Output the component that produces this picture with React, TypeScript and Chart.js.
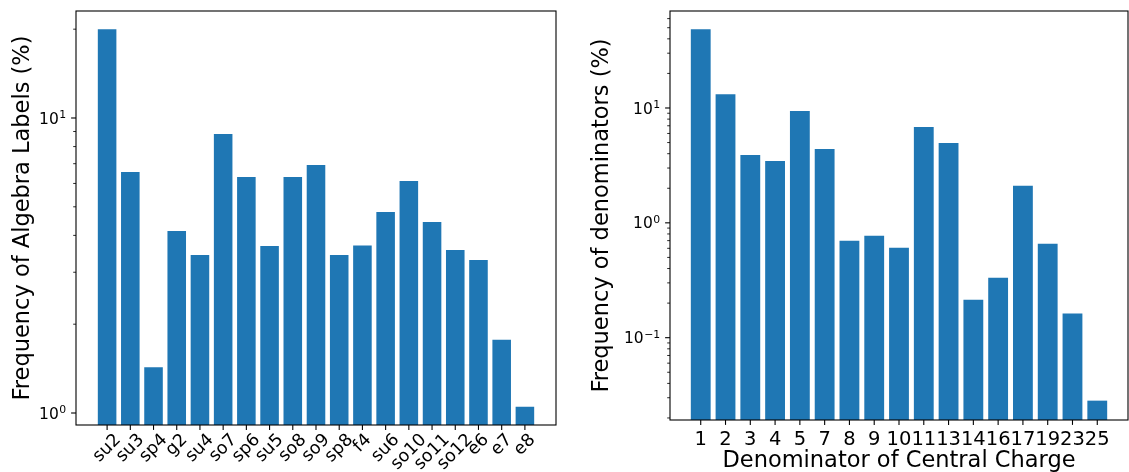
import React, { useEffect, useRef } from "react";
import { Chart, registerables } from "chart.js";

Chart.register(...registerables);

// ---------- data ----------
const algebraLabels = ["su2", "su3", "sp4", "g2", "su4", "so7", "sp6", "su5", "so8", "so9", "sp8", "f4", "su6", "so10", "so11", "so12", "e6", "e7", "e8"];
const algebraFreq = [20.0, 6.56, 1.43, 4.14, 3.43, 8.83, 6.31, 3.68, 6.31, 6.93, 3.43, 3.7, 4.8, 6.11, 4.44, 3.57, 3.3, 1.77, 1.05];

const denomLabels = ["1", "2", "3", "4", "5", "7", "8", "9", "10", "11", "13", "14", "16", "17", "19", "23", "25"];
const denomFreq = [48.6, 13.2, 3.9, 3.46, 9.42, 4.4, 0.698, 0.771, 0.607, 6.84, 4.96, 0.214, 0.333, 2.1, 0.657, 0.162, 0.0283];

const leftYTicks = [1, 2, 3, 4, 5, 6, 7, 8, 9, 10, 20];
const rightYTicks = [
  0.02, 0.03, 0.04, 0.05, 0.06, 0.07, 0.08, 0.09,
  0.1, 0.2, 0.3, 0.4, 0.5, 0.6, 0.7, 0.8, 0.9,
  1, 2, 3, 4, 5, 6, 7, 8, 9,
  10, 20, 30, 40, 50, 60,
];
const powerExponents: Record<string, string> = { "-1": "\u22121", "0": "0", "1": "1" };

const FONT = "'DejaVu Sans', sans-serif";
const BAR_COLOR = "#1f77b4";
const TITLE_SIZE = 22.5;
const YTICK_SIZE = 15.5;

function isPow10(v: number) {
  const l = Math.log10(v);
  return Math.abs(l - Math.round(l)) < 1e-9;
}

type PanelProps = {
  width: number;
  height: number;
  area: { left: number; right: number; top: number; bottom: number };
  labels: string[];
  values: number[];
  yTicks: number[];
  yMin: number;
  yMax: number;
  yTitle: string;
  yTitlePad: number;
  xTitle?: string;
  xTitlePad?: number;
  rotated: boolean;
  xTickSize: number;
};

function Panel(p: PanelProps) {
  const ref = useRef<HTMLCanvasElement | null>(null);
  useEffect(() => {
    if (!ref.current) return;
    const n = p.labels.length;
    const margin = (n - 1 + 0.8) * 0.05;
    const xMin = -0.4 - margin;
    const xMax = n - 1 + 0.4 + margin;

    const axesPlugin = {
      id: "mplAxes",
      afterDraw(chart: any) {
        const ctx = chart.ctx as CanvasRenderingContext2D;
        const { left, right, top, bottom } = chart.chartArea;
        const xs = chart.scales.x;
        const ys = chart.scales.y;
        ctx.save();
        ctx.strokeStyle = "#000";
        ctx.lineCap = "butt";
        // x tick marks
        ctx.lineWidth = 1.1;
        for (const t of xs.ticks) {
          const px = xs.getPixelForValue(t.value);
          ctx.beginPath();
          ctx.moveTo(px, bottom);
          ctx.lineTo(px, bottom + 4.9);
          ctx.stroke();
        }
        // y tick marks + power-of-ten labels
        for (const t of ys.ticks) {
          const py = ys.getPixelForValue(t.value);
          const major = isPow10(t.value);
          ctx.lineWidth = major ? 1.1 : 0.84;
          const len = major ? 4.9 : 2.8;
          ctx.beginPath();
          ctx.moveTo(left - len, py);
          ctx.lineTo(left, py);
          ctx.stroke();
          if (major) {
            const exp = powerExponents[String(Math.round(Math.log10(t.value)))];
            if (exp !== undefined) {
              ctx.fillStyle = "#000";
              ctx.textBaseline = "alphabetic";
              ctx.font = `${YTICK_SIZE * 0.7}px ${FONT}`;
              const we = ctx.measureText(exp).width;
              const xEnd = left - 9.8;
              ctx.textAlign = "left";
              ctx.fillText(exp, xEnd - we, py);
              ctx.font = `${YTICK_SIZE}px ${FONT}`;
              ctx.textAlign = "right";
              ctx.fillText("10", xEnd - we - 0.5, py + 5.6);
            }
          }
        }
        // spines
        ctx.lineWidth = 1.1;
        ctx.strokeRect(left, top, right - left, bottom - top);
        // rotated x tick labels (centered like matplotlib)
        if (p.rotated) {
          ctx.fillStyle = "#000";
          ctx.font = `${p.xTickSize}px ${FONT}`;
          ctx.textAlign = "center";
          ctx.textBaseline = "middle";
          const s = Math.SQRT1_2;
          const h = p.xTickSize * 1.17;
          for (const t of xs.ticks) {
            const label = p.labels[t.value];
            if (label === undefined) continue;
            const w = ctx.measureText(label).width;
            const bboxH = (w + h) * s;
            const cx = xs.getPixelForValue(t.value);
            const cy = bottom + 5 + bboxH / 2;
            ctx.save();
            ctx.translate(cx, cy);
            ctx.rotate(-Math.PI / 4);
            ctx.fillText(label, 0, 0);
            ctx.restore();
          }
        }
        ctx.restore();
      },
    };

    const chart = new Chart(ref.current, {
      type: "bar",
      data: {
        datasets: [
          {
            data: p.values.map((v, i) => ({ x: i, y: v })),
            backgroundColor: BAR_COLOR,
            borderWidth: 0,
            categoryPercentage: 1,
            barPercentage: 0.8,
          } as any,
        ],
      },
      options: {
        animation: false,
        responsive: false,
        maintainAspectRatio: false,
        layout: { padding: { left: 0, top: p.area.top, right: p.width - p.area.right, bottom: 0 } },
        plugins: { legend: { display: false }, tooltip: { enabled: false } },
        scales: {
          x: {
            type: "linear",
            offset: false,
            min: xMin,
            max: xMax,
            grid: { display: false, drawTicks: true, tickLength: 4.9 },
            border: { display: false },
            afterBuildTicks: (s: any) => {
              s.ticks = p.labels.map((_, i) => ({ value: i }));
            },
            afterFit: (s: any) => {
              s.height = p.height - p.area.bottom;
            },
            ticks: {
              display: !p.rotated,
              autoSkip: false,
              maxRotation: 0,
              minRotation: 0,
              padding: 3.5,
              color: "#000",
              font: { family: FONT, size: p.xTickSize },
              callback: (v: any) => p.labels[v as number] ?? "",
            },
            title: p.xTitle
              ? {
                  display: true,
                  text: p.xTitle,
                  color: "#000",
                  font: { family: FONT, size: TITLE_SIZE, lineHeight: 1 },
                  padding: { top: 0, bottom: p.xTitlePad ?? 0 },
                }
              : { display: false },
          } as any,
          y: {
            type: "logarithmic",
            min: p.yMin,
            max: p.yMax,
            grid: { display: false, drawTicks: true, tickLength: 4.9 },
            border: { display: false },
            afterBuildTicks: (s: any) => {
              s.ticks = p.yTicks.map((v) => ({ value: v }));
            },
            afterFit: (s: any) => {
              s.width = p.area.left;
            },
            ticks: {
              display: false,
              autoSkip: false,
            },
            title: {
              display: true,
              text: p.yTitle,
              color: "#000",
              font: { family: FONT, size: TITLE_SIZE, lineHeight: 1 },
              padding: { top: p.yTitlePad, bottom: 0 },
            },
          } as any,
        },
      },
      plugins: [axesPlugin],
    });
    return () => chart.destroy();
  }, []);
  return <canvas ref={ref} width={p.width} height={p.height} style={{ display: "block", width: p.width, height: p.height }} />;
}

export default function App() {
  return (
    <div style={{ position: "absolute", left: 0, top: 0, width: 1129, height: 472, background: "#fff" }}>
      <div style={{ position: "absolute", left: 0, top: 0 }}>
        <Panel
          width={565}
          height={472}
          area={{ left: 76, right: 556, top: 11, bottom: 425 }}
          labels={algebraLabels}
          values={algebraFreq}
          yTicks={leftYTicks}
          yMin={0.9106}
          yMax={23.05}
          yTitle="Frequency of Algebra Labels (%)"
          yTitlePad={12.1}
          rotated={true}
          xTickSize={17.5}
        />
      </div>
      <div style={{ position: "absolute", left: 565, top: 0 }}>
        <Panel
          width={564}
          height={472}
          area={{ left: 105, right: 563, top: 11, bottom: 420 }}
          labels={denomLabels}
          values={denomFreq}
          yTicks={rightYTicks}
          yMin={0.0192}
          yMax={69.9}
          yTitle="Frequency of denominators (%)"
          yTitlePad={26.2}
          xTitle="Denominator of Central Charge"
          xTitlePad={0}
          rotated={false}
          xTickSize={19.5}
        />
      </div>
    </div>
  );
}
